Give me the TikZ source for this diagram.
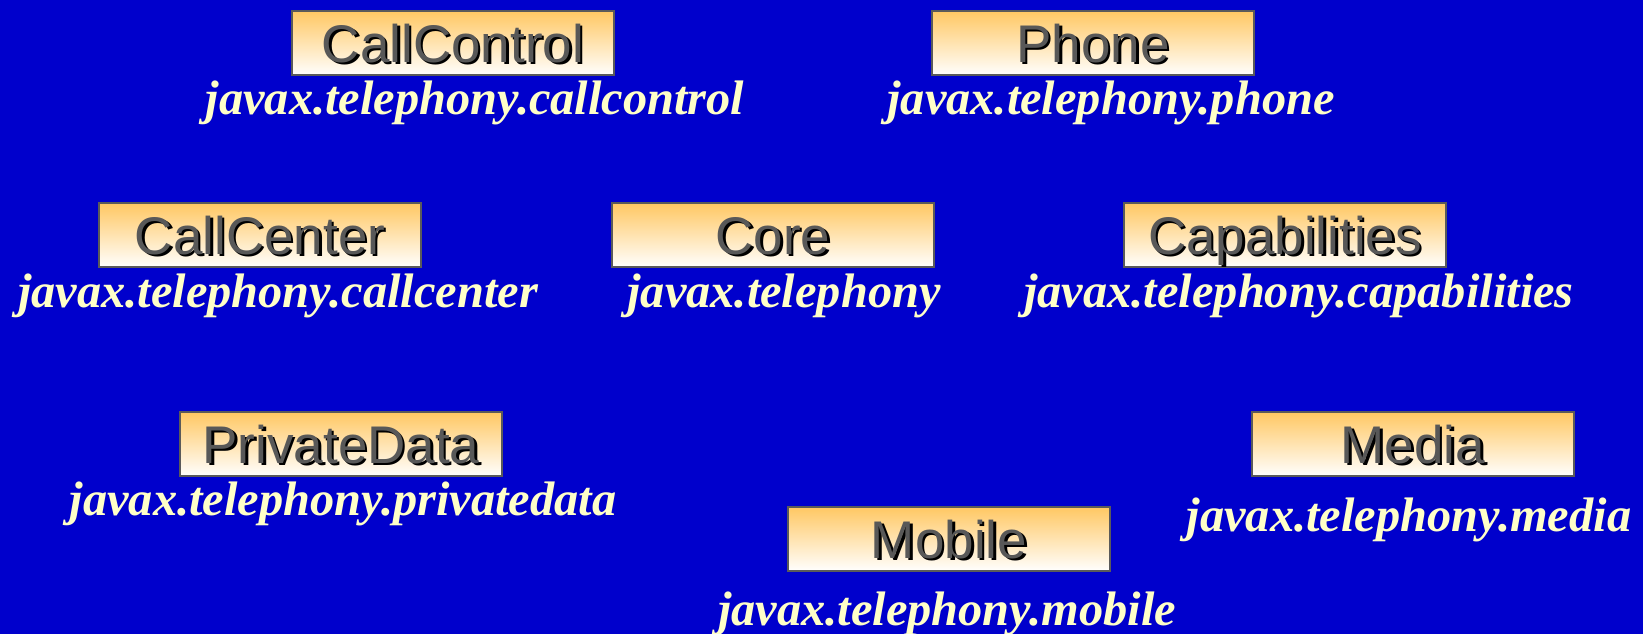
\documentclass[tikz,border=0pt]{standalone}
\usepackage{fontspec}
\setmainfont{Liberation Serif}
\newfontfamily\boxfont{Liberation Sans}
\definecolor{slidebg}{RGB}{0,0,204}
\definecolor{pkgtext}{RGB}{255,255,200}
\definecolor{boxedge}{RGB}{90,90,90}
\definecolor{boxtop}{RGB}{255,200,100}
\definecolor{boxmid}{RGB}{255,236,205}
\definecolor{boxlabel}{RGB}{88,88,88}
\tikzset{
  pkgbox/.style={draw=boxedge, line width=2pt, minimum width=322pt, minimum height=64pt,
    inner sep=0pt, top color=boxtop, middle color=boxmid, bottom color=white},
  boxname/.style={font=\boxfont\fontsize{53}{60}\selectfont, text=boxlabel, inner sep=0pt, anchor=base},
  boxshadow/.style={font=\boxfont\fontsize{53}{60}\selectfont, text=black, inner sep=0pt, anchor=base},
  pkgname/.style={font=\bfseries\itshape\fontsize{48.4}{55}\selectfont, text=pkgtext,
    inner sep=0pt, anchor=base}
}
% package box: name, x, y, caption
\newcommand\pkgboxat[4]{%
  \node[pkgbox] (#1) at (#2,#3) {};
  \node[boxshadow] (#1-sh) at ([shift={(2.5pt,-21.5pt)}]#1.center) {#4};
  \node[boxname] (#1-txt) at ([yshift=-19pt]#1.center) {#4};
}
\begin{document}
\begin{tikzpicture}[x=1pt,y=1pt]
  \fill[slidebg] (0,0) rectangle (1643,634);
  \useasboundingbox (0,0) rectangle (1643,634);

  \pkgboxat{callcontrol}{453}{590.5}{CallControl}
  \pkgboxat{phone}{1093}{590.5}{Phone}
  \pkgboxat{callcenter}{260}{398.5}{CallCenter}
  \pkgboxat{core}{773}{398.5}{Core}
  \pkgboxat{capabilities}{1285}{398.5}{Capabilities}
  \pkgboxat{privatedata}{341}{189.5}{PrivateData}
  \pkgboxat{media}{1413}{189.5}{Media}
  \pkgboxat{mobile}{949}{94.5}{Mobile}

  \node[pkgname] (callcontrol-pkg) at (475,519) {javax.telephony.callcontrol};
  \node[pkgname] (phone-pkg) at (1111,519) {javax.telephony.phone};
  \node[pkgname] (callcenter-pkg) at (278,326) {javax.telephony.callcenter};
  \node[pkgname] (core-pkg) at (784,326) {javax.telephony};
  \node[pkgname] (capabilities-pkg) at (1299,326) {javax.telephony.capabilities};
  \node[pkgname] (privatedata-pkg) at (343,118) {javax.telephony.privatedata};
  \node[pkgname] (media-pkg) at (1409,102) {javax.telephony.media};
  \node[pkgname] (mobile-pkg) at (947,8) {javax.telephony.mobile};
\end{tikzpicture}
\end{document}
